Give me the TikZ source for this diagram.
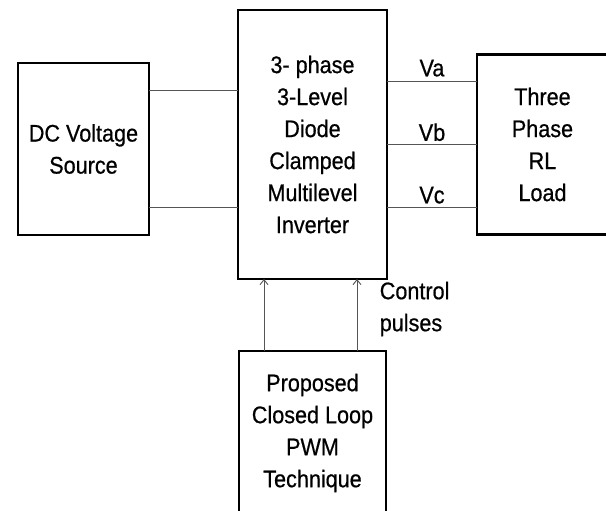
\documentclass[tikz,border=0pt]{standalone}
\usepackage{fontspec}
\setmainfont[FakeStretch=0.9, FakeBold=0.6]{Liberation Sans}
\usetikzlibrary{positioning,arrows.meta}
\definecolor{wiregray}{RGB}{85,85,85}
\begin{document}
\begin{tikzpicture}[
  x=1pt, y=1pt,
  font=\fontsize{24}{32}\selectfont,
  blk/.style={rectangle, draw=black, line width=2.6pt, align=center,
              inner sep=0pt, outer sep=0pt},
  wire/.style={draw=wiregray, line width=0.9pt},
  arr/.style={wire, -{Straight Barb[length=5pt,width=8pt]}},
  lbl/.style={align=left}
]
\useasboundingbox (0,0) rectangle (606,511);
\clip (0,0) rectangle (606,511);
\node[blk, minimum width=149pt, minimum height=269pt] (inv) at (312.5,366.5)
  {3- phase\\3-Level\\Diode\\Clamped\\Multilevel\\Inverter};
\node[blk, minimum width=131pt, minimum height=172pt, left=89pt of inv, yshift=-4.5pt] (dc)
  {DC Voltage\\Source};
\node[blk, minimum width=131pt, minimum height=180pt, right=90pt of inv] (load)
  {Three\\Phase\\RL\\Load};
\node[blk, minimum width=147pt, minimum height=164pt, below=72pt of inv] (pwm)
  {Proposed\\Closed Loop\\PWM\\Technique};
\draw[wire] ([yshift=59pt]dc.east) -- ([yshift=59pt]dc.east -| inv.west);
\draw[wire] ([yshift=-58pt]dc.east) -- ([yshift=-58pt]dc.east -| inv.west);
\draw[wire] ([yshift=63.5pt]inv.east) -- ([yshift=63.5pt]inv.east -| load.west)
  node[midway, above, inner sep=4pt] {Va};
\draw[wire] (inv.east) -- (inv.east -| load.west) node[midway, above, inner sep=3pt] {Vb};
\draw[wire] ([yshift=-62.5pt]inv.east) -- ([yshift=-62.5pt]inv.east -| load.west)
  node[midway, above, inner sep=3pt] {Vc};
\draw[arr] ([xshift=-48.5pt]pwm.north) -- ([xshift=-48.5pt]pwm.north |- inv.south);
\draw[arr] ([xshift=44.5pt]pwm.north) -- ([xshift=44.5pt]pwm.north |- inv.south)
  node[lbl, midway, right=19pt, yshift=6pt] {Control\\pulses};
\end{tikzpicture}
\end{document}
